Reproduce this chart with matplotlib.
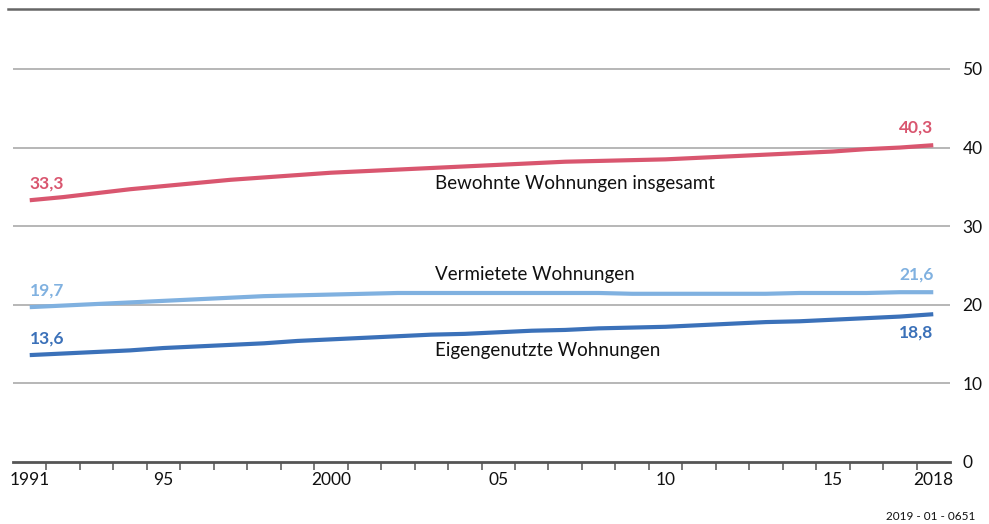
"""
Bewohnte Wohnungen 1991-2018 (Mio.)
===================================

Line chart of occupied dwellings, split into rented and owner-occupied.
"""

import matplotlib
matplotlib.use("Agg")
import matplotlib.pyplot as plt
from matplotlib.lines import Line2D

# Data (values in millions)
years = list(range(1991, 2019))

total = [33.3, 33.7, 34.2, 34.7, 35.1, 35.5, 35.9, 36.2, 36.5, 36.8,
         37.0, 37.2, 37.4, 37.6, 37.8, 38.0, 38.2, 38.3, 38.4, 38.5,
         38.7, 38.9, 39.1, 39.3, 39.5, 39.8, 40.0, 40.3]
rented = [19.7, 19.9, 20.1, 20.3, 20.5, 20.7, 20.9, 21.1, 21.2, 21.3,
          21.4, 21.5, 21.5, 21.5, 21.5, 21.5, 21.5, 21.5, 21.4, 21.4,
          21.4, 21.4, 21.4, 21.5, 21.5, 21.5, 21.6, 21.6]
owned = [13.6, 13.8, 14.0, 14.2, 14.5, 14.7, 14.9, 15.1, 15.4, 15.6,
         15.8, 16.0, 16.2, 16.3, 16.5, 16.7, 16.8, 17.0, 17.1, 17.2,
         17.4, 17.6, 17.8, 17.9, 18.1, 18.3, 18.5, 18.8]

series_names = ["Bewohnte Wohnungen insgesamt", "Vermietete Wohnungen",
                "Eigengenutzte Wohnungen"]
label_years = [1991, 1995, 2000, 2005, 2010, 2015, 2018]
label_texts = ["1991", "95", "2000", "05", "10", "15", "2018"]
y_ticks = [0, 10, 20, 30, 40, 50]

PINK = "#d9566f"
LIGHT = "#80b1e0"
DARK = "#3b71b9"
GRID = "#aaaaaa"
AXIS = "#555555"

plt.rcParams["font.family"] = ["Lato", "DejaVu Sans"]

fig = plt.figure(figsize=(9.89, 5.24), dpi=100)
ax = fig.add_axes([13 / 989, 62 / 524, 937 / 989, 452 / 524])

# Lines
for vals, col in [(total, PINK), (rented, LIGHT), (owned, DARK)]:
    ax.plot(years, vals, color=col, lw=3.0, solid_capstyle="butt", zorder=3)

ax.set_xlim(1990.5, 2018.5)
ax.set_ylim(0, 57.5)

# Grid / spines
ax.set_yticks(y_ticks)
ax.yaxis.tick_right()
ax.tick_params(axis="y", length=0, pad=9, labelsize=12.5, labelcolor="#111111")
for v in y_ticks[1:]:
    ax.axhline(v, color=GRID, lw=1.2, zorder=1)
for s in ["top", "left", "right"]:
    ax.spines[s].set_visible(False)
ax.spines["bottom"].set_color(AXIS)
ax.spines["bottom"].set_linewidth(2.0)

# x axis: tick marks at year boundaries, labels centred on years
ax.set_xticks([y + 0.5 for y in years[:-1]])
ax.set_xticklabels([])
ax.tick_params(axis="x", which="major", length=6, width=1.1, color=AXIS)
ax.set_xticks(label_years, minor=True)
ax.set_xticklabels(label_texts, minor=True)
ax.tick_params(axis="x", which="minor", length=0, pad=7, labelsize=12.5,
               labelcolor="#111111")

# Value labels at both ends
end_kw = dict(fontsize=12.5, fontweight="bold")
ax.text(years[0], total[0] + 1.1, "33,3", color=PINK, ha="left", va="bottom", **end_kw)
ax.text(years[0], rented[0] + 1.1, "19,7", color=LIGHT, ha="left", va="bottom", **end_kw)
ax.text(years[0], owned[0] + 1.1, "13,6", color=DARK, ha="left", va="bottom", **end_kw)
ax.text(years[-1], total[-1] + 1.2, "40,3", color=PINK, ha="right", va="bottom", **end_kw)
ax.text(years[-1], rented[-1] + 1.2, "21,6", color=LIGHT, ha="right", va="bottom", **end_kw)
ax.text(years[-1], owned[-1] - 1.3, "18,8", color=DARK, ha="right", va="top", **end_kw)

# Series names
ax.text(2003.1, 35.4, series_names[0], fontsize=13.5, va="center", color="#111111")
ax.text(2003.1, 23.8, series_names[1], fontsize=13.5, va="center", color="#111111")
ax.text(2003.1, 14.2, series_names[2], fontsize=13.5, va="center", color="#111111")

# Top rule and source code
fig.add_artist(Line2D([8 / 989, 978 / 989], [1 - 9 / 524, 1 - 9 / 524],
                      color="#666666", lw=1.8))
fig.text(975 / 989, 1 - 517 / 524, "2019 - 01 - 0651", ha="right", va="center",
         fontsize=8.5, color="#111111")

fig.savefig("out.png", dpi=100)
